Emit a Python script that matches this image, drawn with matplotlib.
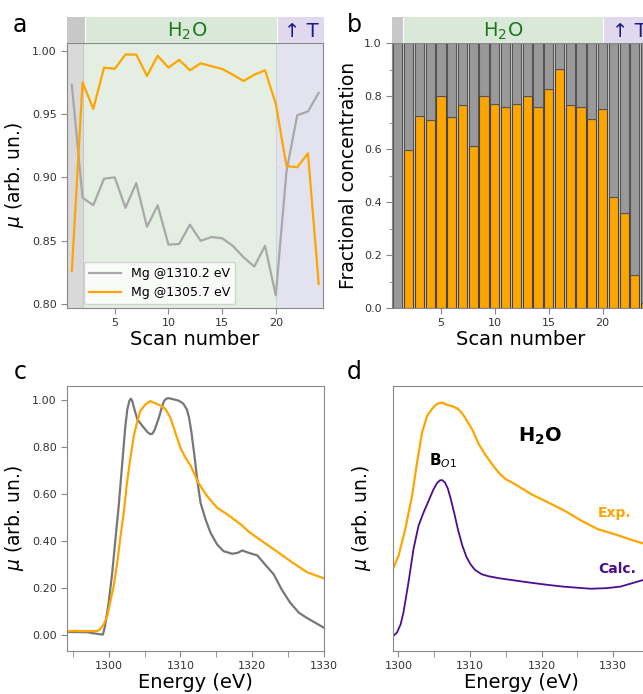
import matplotlib
matplotlib.use('Agg')
import matplotlib.pyplot as plt
from matplotlib.ticker import MultipleLocator

# panel a: mu at two energies vs scan number
scans = list(range(1, 25))
mu_1310 = [0.973, 0.884, 0.878, 0.899, 0.900, 0.876, 0.8955, 0.861, 0.878, 0.847,
           0.8475, 0.8627, 0.850, 0.853, 0.852, 0.846, 0.837, 0.8297, 0.846, 0.807,
           0.905, 0.949, 0.952, 0.9667]
mu_1305 = [0.826, 0.975, 0.954, 0.9866, 0.9856, 0.997, 0.9969, 0.980, 0.996, 0.9866,
           0.9927, 0.9845, 0.990, 0.9877, 0.9856, 0.981, 0.976, 0.981, 0.9845, 0.958,
           0.909, 0.908, 0.919, 0.816]

# panel b: fractional concentration (orange part)
frac = [0.0, 0.597, 0.723, 0.711, 0.800, 0.7195, 0.765, 0.611, 0.800, 0.771,
        0.758, 0.768, 0.799, 0.758, 0.828, 0.902, 0.765, 0.757, 0.712, 0.752,
        0.419, 0.360, 0.126, 0.019]

# panel c: two spectra
e_gray = [1294.2, 1297.0, 1298.4, 1299.2, 1299.5, 1300.0, 1300.5, 1300.9, 1301.4, 1301.9,
          1302.3, 1302.6, 1302.9, 1303.1, 1303.3, 1303.6, 1304.0, 1304.7, 1305.4, 1305.8,
          1306.1, 1306.4, 1307.0, 1307.4, 1307.7, 1308.0, 1308.4, 1309.1, 1309.8, 1310.4,
          1310.9, 1311.2, 1311.5, 1311.9, 1312.4, 1312.8, 1313.5, 1314.2, 1315.1, 1316.0,
          1317.2, 1318.0, 1318.6, 1319.5, 1320.7, 1321.8, 1323.0, 1324.1, 1325.3, 1326.5,
          1327.6, 1328.8, 1330.0]
mu_gray = [0.013, 0.012, 0.005, 0.002, 0.038, 0.137, 0.265, 0.393, 0.549, 0.733,
           0.880, 0.960, 0.998, 1.006, 0.995, 0.960, 0.918, 0.89, 0.864, 0.855,
           0.857, 0.872, 0.925, 0.968, 0.995, 1.006, 1.008, 1.003, 0.997, 0.985,
           0.960, 0.925, 0.870, 0.776, 0.648, 0.563, 0.492, 0.435, 0.386, 0.357,
           0.346, 0.350, 0.360, 0.350, 0.339, 0.300, 0.258, 0.194, 0.137, 0.095,
           0.073, 0.052, 0.031]
e_orange = [1294.2, 1298.4, 1298.8, 1299.3, 1299.8, 1300.2, 1300.7, 1301.2, 1301.6, 1302.1,
            1302.5, 1303.0, 1303.5, 1304.0, 1304.4, 1305.1, 1305.8, 1306.5, 1307.2, 1307.9,
            1308.6, 1309.3, 1310.0, 1310.7, 1311.4, 1312.5, 1313.7, 1315.1, 1316.5, 1318.4,
            1319.5, 1320.7, 1323.0, 1325.3, 1327.6, 1330.0]
mu_orange = [0.017, 0.017, 0.024, 0.045, 0.081, 0.137, 0.208, 0.308, 0.407, 0.52,
             0.634, 0.748, 0.847, 0.911, 0.953, 0.981, 0.996, 0.986, 0.977, 0.963,
             0.925, 0.861, 0.797, 0.755, 0.722, 0.648, 0.592, 0.542, 0.514, 0.471,
             0.440, 0.414, 0.365, 0.315, 0.268, 0.241]

# panel d: experiment vs calculation (arbitrary units)
e_exp = [1299.3, 1300.0, 1300.95, 1301.9, 1302.6, 1303.3, 1304.0, 1304.7, 1305.2, 1305.6,
         1306.1, 1306.8, 1307.7, 1308.3, 1308.8, 1309.3, 1310.3, 1311.2, 1312.1, 1313.1,
         1314.0, 1315.0, 1316.2, 1318.6, 1320.95, 1323.3, 1325.6, 1327.9, 1330.3, 1332.6,
         1334.2, 1336.0]
mu_exp = [0.314, 0.358, 0.459, 0.585, 0.711, 0.824, 0.887, 0.914, 0.928, 0.935,
          0.937, 0.929, 0.922, 0.914, 0.900, 0.881, 0.836, 0.782, 0.742, 0.704,
          0.673, 0.648, 0.631, 0.591, 0.560, 0.528, 0.491, 0.459, 0.440, 0.419,
          0.406, 0.390]
e_calc = [1299.3, 1299.8, 1300.3, 1300.7, 1301.4, 1302.1, 1302.8, 1303.5, 1304.2, 1304.9,
          1305.4, 1305.8, 1306.1, 1306.5, 1306.9, 1307.3, 1307.8, 1308.3, 1308.9, 1309.5,
          1310.1, 1310.7, 1311.6, 1312.6, 1314.2, 1316.3, 1318.4, 1320.7, 1323.0, 1326.8,
          1329.0, 1331.0, 1334.2, 1336.0]
mu_calc = [0.057, 0.070, 0.100, 0.145, 0.258, 0.384, 0.472, 0.522, 0.566, 0.610,
           0.634, 0.644, 0.645, 0.636, 0.613, 0.575, 0.520, 0.460, 0.400, 0.355,
           0.326, 0.306, 0.290, 0.282, 0.274, 0.266, 0.258, 0.250, 0.243, 0.235,
           0.237, 0.243, 0.268, 0.290]

ORANGE = '#ffa500'
SPINE = '#888888'
TICKC = '#333333'

plt.rcParams['font.family'] = 'DejaVu Sans'
fig = plt.figure(figsize=(6.43, 6.94), dpi=100)
W, H = 643., 694.


def box(l, t, r, b):
    return [l / W, 1 - b / H, (r - l) / W, (b - t) / H]


def style(ax):
    for s in ax.spines.values():
        s.set_color(SPINE)
    ax.tick_params(labelsize=8, colors=SPINE, labelcolor=TICKC, length=4)


def header(rect, xlim, spans):
    hx = fig.add_axes(rect)
    hx.set_xlim(*xlim)
    hx.set_ylim(0, 1)
    hx.axis('off')
    for x0, x1, col in spans:
        hx.axvspan(x0, x1, color=col, lw=0)
    return hx


# ---- a ----
ax = fig.add_axes(box(67, 43, 323, 308))
ax.axvspan(0.55, 2, color='#d9d9d9', lw=0)
ax.axvspan(2, 20, color='#e4eee3', lw=0)
ax.axvspan(20, 24.4, color='#e3e3ef', lw=0)
ax.axvline(2, color='#c8c8c8', lw=0.8)
ax.axvline(20, color='#cfd4dc', lw=0.8)
ax.plot(scans, mu_1310, color='#a8a8a8', lw=1.6, label='Mg @1310.2 eV')
ax.plot(scans, mu_1305, color=ORANGE, lw=1.6, label='Mg @1305.7 eV')
ax.set_xlim(0.55, 24.4)
ax.set_ylim(0.797, 1.006)
ax.set_xticks([5, 10, 15, 20])
ax.set_yticks([0.80, 0.85, 0.90, 0.95, 1.00])
ax.set_yticklabels(['0.80', '0.85', '0.90', '0.95', '1.00'])
ax.set_xlabel('Scan number', fontsize=14, labelpad=1)
ax.set_ylabel(r'$\mu$ (arb. un.)', fontsize=13.5, labelpad=4)
style(ax)
leg = ax.legend(loc='lower left', bbox_to_anchor=(0.05, 0.0), fontsize=9,
                handlelength=2.6, framealpha=0.8, borderaxespad=0.3)
hx = header(box(67, 17, 324, 43), (0.55, 24.4),
            [(0.55, 2.2, '#c8c8c8'), (2.3, 20.05, '#d9e8d9'), (20.15, 24.4, '#e0d9ee')])
hx.text(11.7, 0.45, r'H$_2$O', color='#1a7a1a', fontsize=14, ha='center', va='center')
hx.text(22.3, 0.45, '\u2191 T', color='#1a1a8a', fontsize=14, ha='center', va='center')
fig.text(20 / W, 1 - 25 / H, 'a', fontsize=17, ha='center', va='center')

# ---- b ----
bx = fig.add_axes(box(392, 43, 650, 308))
bx.set_facecolor('#cccccc')
gray_part = [1 - f for f in frac]
bx.bar(scans, frac, width=0.85, color=ORANGE, edgecolor='#444444', lw=0.8)
bx.bar(scans, gray_part, bottom=frac, width=0.85, color='#999999', edgecolor='#555555', lw=0.8)
bx.set_xlim(0.46, 24.4)
bx.set_ylim(0, 1)
bx.set_xticks([5, 10, 15, 20])
bx.yaxis.set_minor_locator(MultipleLocator(0.1))
bx.set_xlabel('Scan number', fontsize=14, labelpad=1)
bx.set_ylabel('Fractional concentration', fontsize=13.5, labelpad=4)
style(bx)
bx.tick_params(which='minor', length=2.5, colors=SPINE)
hx = header(box(392, 17, 650, 43), (0.46, 24.4),
            [(0.46, 1.5, '#c8c8c8'), (1.55, 20.0, '#d9e8d9'), (20.15, 24.4, '#e0d9ee')])
hx.text(10.8, 0.45, r'H$_2$O', color='#1a7a1a', fontsize=14, ha='center', va='center')
hx.text(20.9, 0.45, '\u2191 T', color='#1a1a8a', fontsize=14, ha='left', va='center')
fig.text(354 / W, 1 - 25 / H, 'b', fontsize=17, ha='center', va='center')

# ---- c ----
cx = fig.add_axes(box(67, 386, 324, 651))
cx.plot(e_gray, mu_gray, color='#777777', lw=1.6)
cx.plot(e_orange, mu_orange, color=ORANGE, lw=1.6)
cx.set_xlim(1294.2, 1330)
cx.set_ylim(-0.068, 1.06)
cx.set_xticks([1300, 1310, 1320, 1330])
cx.xaxis.set_minor_locator(MultipleLocator(5))
cx.set_yticks([0, 0.2, 0.4, 0.6, 0.8, 1.0])
cx.set_yticklabels(['0.00', '0.20', '0.40', '0.60', '0.80', '1.00'])
cx.set_xlabel('Energy (eV)', fontsize=14, labelpad=1)
cx.set_ylabel(r'$\mu$ (arb. un.)', fontsize=13.5, labelpad=4)
style(cx)
cx.tick_params(which='minor', length=4, colors=SPINE)
fig.text(20 / W, 1 - 372 / H, 'c', fontsize=17, ha='center', va='center')

# ---- d ----
dx = fig.add_axes(box(392.7, 386, 649.7, 651))
dx.plot(e_exp, mu_exp, color=ORANGE, lw=1.6)
dx.plot(e_calc, mu_calc, color='#4b0f8f', lw=1.3)
dx.set_xlim(1299.2, 1335.1)
dx.set_ylim(0, 1)
dx.set_xticks([1300, 1310, 1320, 1330])
dx.xaxis.set_minor_locator(MultipleLocator(5))
dx.set_yticks([])
dx.set_xlabel('Energy (eV)', fontsize=14, labelpad=1)
dx.set_ylabel(r'$\mu$ (arb. un.)', fontsize=13.5, labelpad=14)
style(dx)
dx.tick_params(which='minor', length=4, colors=SPINE)
dx.text(1319.8, 0.81, r'$\mathbf{H_2O}$', fontsize=14, ha='center', va='center')
dx.text(1306.2, 0.72, r'$\mathbf{B}_{O1}$', fontsize=11, ha='center', va='center')
dx.text(1327.9, 0.52, 'Exp.', color=ORANGE, fontsize=10, fontweight='bold', ha='left', va='center')
dx.text(1327.9, 0.31, 'Calc.', color='#4b0f8f', fontsize=10, fontweight='bold', ha='left', va='center')
fig.text(354 / W, 1 - 372 / H, 'd', fontsize=17, ha='center', va='center')

fig.savefig('out.png', dpi=100)
